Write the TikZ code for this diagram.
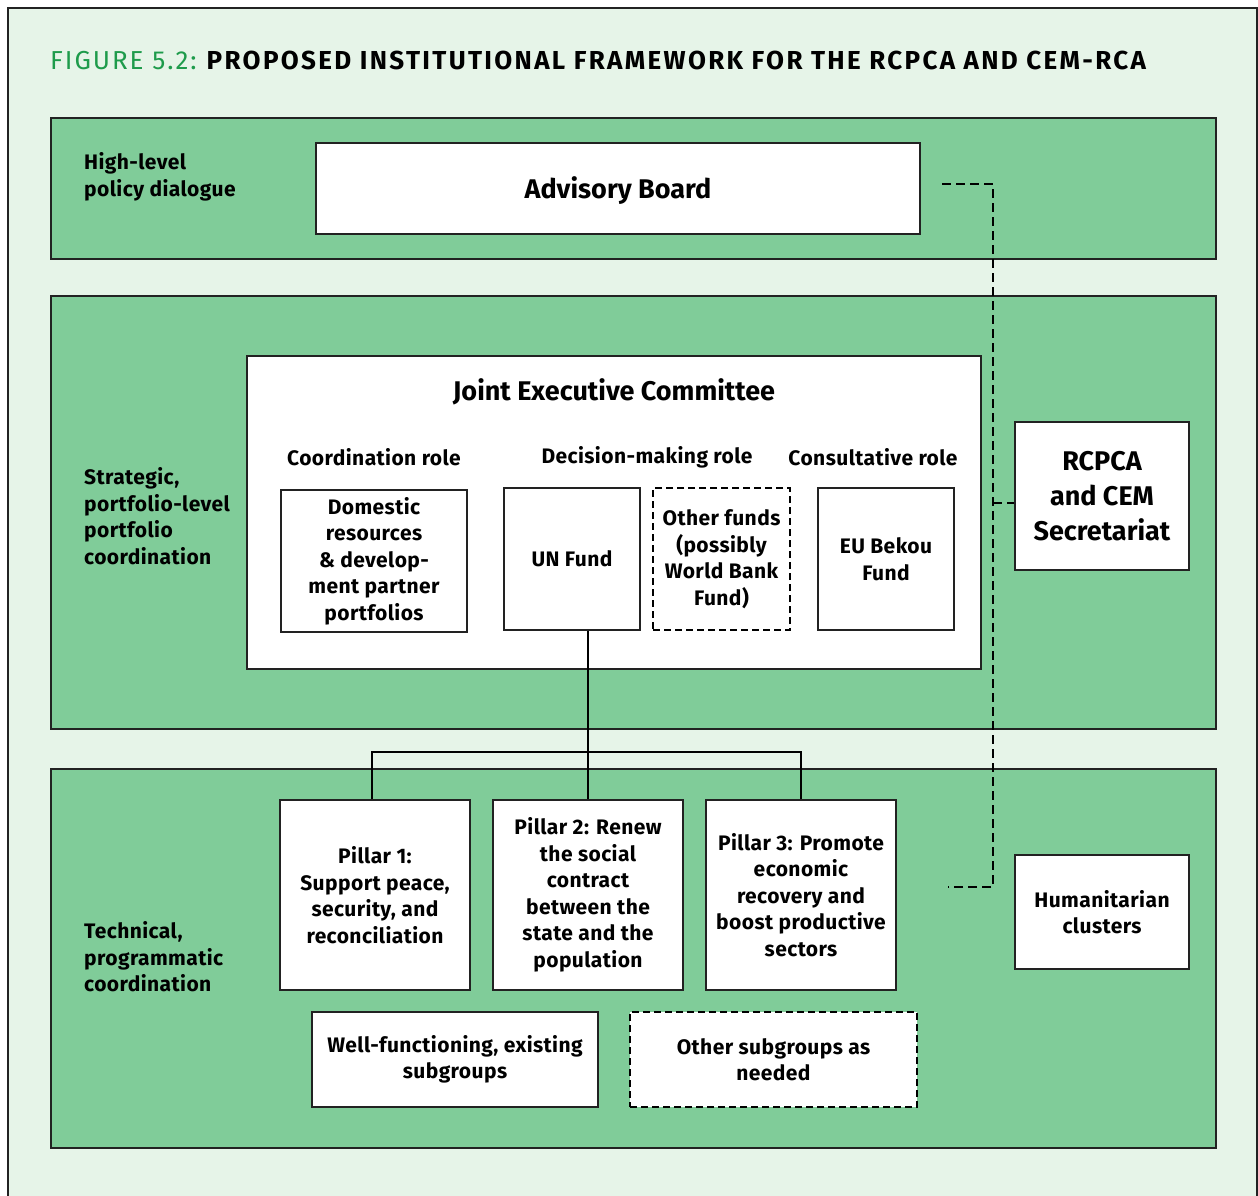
\documentclass[tikz,border=0pt]{standalone}
\usepackage{fontspec}
\setmainfont{Fira Sans}
\usetikzlibrary{calc}
\definecolor{bgl}{HTML}{E6F4E8}
\definecolor{band}{HTML}{80CC99}
\definecolor{ttl}{HTML}{1E9B4B}
\definecolor{edge}{HTML}{222222}
\newcommand{\bodyfont}{\bfseries\fontsize{21}{26.5}\selectfont\addfontfeature{LetterSpace=2}}
\tikzset{
 bandbox/.style={draw=edge, fill=band, line width=1.5pt},
 box/.style={draw=edge, fill=white, line width=1.2pt, inner sep=0pt, align=center, font=\bodyfont},
 dbox/.style={box, draw=black, line width=2.5pt, dash pattern=on 7pt off 4pt},
 bigtxt/.style={font=\bfseries\fontsize{27}{35}\selectfont},
 lbl/.style={anchor=west, align=left, inner sep=0pt, font=\bodyfont},
 role/.style={inner sep=0pt, font=\bodyfont},
 link/.style={draw=black, line width=2.6pt},
 dlink/.style={draw=black, line width=2.6pt, dash pattern=on 9pt off 5pt},
}
\begin{document}
\begin{tikzpicture}[x=1pt,y=-1pt]
\useasboundingbox (0,0) rectangle (1258,1196);
\draw[fill=bgl, line width=1.5pt, draw=edge] (8,8) rectangle (1257,1215);
\node[anchor=west, inner sep=0pt, font=\fontsize{26}{30}\selectfont] (title) at (50,60)
  {{\addfontfeature{LetterSpace=7.5}\textcolor{ttl}{FIGURE 5.2:}}\hspace{10pt}{\bfseries\addfontfeature{LetterSpace=9}PROPOSED INSTITUTIONAL FRAMEWORK FOR THE RCPCA AND CEM-RCA}};
% bands
\draw[bandbox] (51,118) rectangle (1216,259);
\draw[bandbox] (51,296) rectangle (1216,729);
\draw[bandbox] (51,769) rectangle (1216,1148);
% band labels
\node[lbl] (l1) at (84,177) {High-level\\policy dialogue};
\node[lbl] (l2) at (84,516) {Strategic,\\portfolio-level\\portfolio\\coordination};
\node[lbl] (l3) at (84,957) {Technical,\\programmatic\\coordination};
% advisory
\node[box, minimum width=604pt, minimum height=91pt] (adv) at (618,188.5) {};
\node[inner sep=0pt, bigtxt] (advt) at (618,191) {Advisory Board};
% JEC
\node[box, minimum width=734pt, minimum height=313pt] (jec) at (614,512.5) {};
\node[inner sep=0pt, bigtxt] (ject) at (614,392) {Joint Executive Committee};
\node[role] (r1) at (374,457) {Coordination role};
\node[role] (r2) at (647,457) {Decision-making role};
\node[role] (r3) at (873,457) {Consultative role};
\node[box, minimum width=186pt, minimum height=142pt] (dom) at (374,561) {Domestic\\resources\\\& develop-\\ment partner\\portfolios};
\node[box, minimum width=136pt, minimum height=142pt] (un) at (572,559) {UN Fund};
\node[dbox, minimum width=137pt, minimum height=142pt] (of) at (721.5,559) {Other funds\\(possibly\\World Bank\\Fund)};
\node[box, minimum width=136pt, minimum height=142pt] (eu) at (886,559) {EU Bekou\\Fund};
% right side
\node[box, bigtxt, minimum width=174pt, minimum height=148pt] (rc) at (1102,496) {RCPCA\\and CEM\\Secretariat};
\node[box, minimum width=174pt, minimum height=114pt] (hum) at (1102,912) {Humanitarian\\clusters};
% pillars
\node[box, minimum width=190pt, minimum height=190pt] (p1) at (375,895) {Pillar 1:\\Support peace,\\security, and\\reconciliation};
\node[box, minimum width=190pt, minimum height=190pt] (p2) at (588,895) {Pillar 2: Renew\\the social\\contract\\between the\\state and the\\population};
\node[box, minimum width=190pt, minimum height=190pt] (p3) at (801,895) {Pillar 3: Promote\\economic\\recovery and\\boost productive\\sectors};
\node[box, minimum width=286pt, minimum height=95pt] (wf) at (455,1059.5) {Well-functioning, existing\\subgroups};
\node[dbox, minimum width=287pt, minimum height=95pt] (os) at (773.5,1059.5) {Other subgroups as\\needed};
% solid connectors
\coordinate (bar) at (0,752);
\draw[link] (un.south -| p2.north) -- (p2.north);
\draw[link] ([xshift=-3pt]p1.north) |- (bar -| p2.north) -| (p3.north);
% dashed connectors
\coordinate (d1) at (942,184);
\coordinate (d2) at (948,887);
\coordinate (dx) at (993,0);
\coordinate (rcw) at ([yshift=-7pt]rc.west);
\draw[dlink] (d1) -| (dx |- d2) -- (d2);
\draw[dlink] (dx |- rcw) -- (rcw);
\end{tikzpicture}
\end{document}
